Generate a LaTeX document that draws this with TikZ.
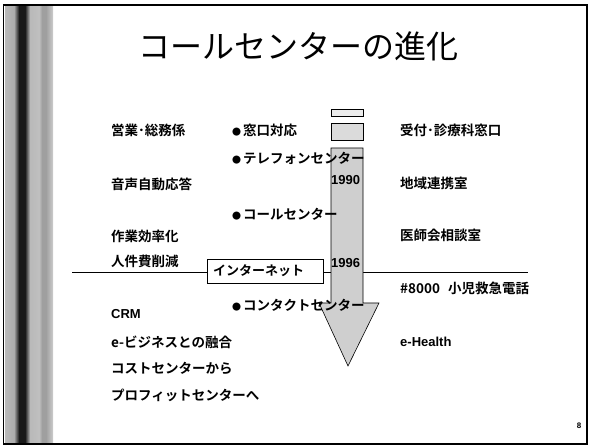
\documentclass[tikz,border=0pt]{standalone}
\usepackage{fontspec}
\setmainfont{Noto Sans CJK JP}[BoldFont={Noto Sans CJK JP Bold}]
\newfontfamily\arialb{Liberation Sans}[BoldFont={Liberation Sans Bold}]
\newcommand{\bul}{{\fontsize{9}{10}\selectfont ●}\hspace{2pt}}
\begin{document}
\begin{tikzpicture}[x=1pt,y=-1pt,
  lbl/.style={anchor=west, inner sep=0pt, font=\fontsize{13.5}{15}\selectfont\bfseries},
  latlbl/.style={anchor=west, inner sep=0pt, font=\arialb\fontsize{13}{15}\selectfont\bfseries},
  yearlbl/.style={anchor=west, inner sep=0pt, font=\arialb\fontsize{13}{14}\selectfont\bfseries},
  arrowfill/.style={draw=black, line width=0.6pt, fill=gray!38},
  stripe/.style={draw=none}]
\useasboundingbox (0,0) rectangle (589,446);
% left decorative stripe
\shade[stripe, left color=gray!55, right color=gray!65] (5,5) rectangle (14,444);
\shade[stripe, left color=gray!65, right color=black!90] (14,5) rectangle (19,444);
\fill[black!90] (19,5) rectangle (25,444);
\shade[stripe, left color=black!90, right color=gray!55] (25,5) rectangle (30,444);
\shade[stripe, left color=gray!55, right color=gray!50] (30,5) rectangle (39,444);
\shade[stripe, left color=gray!50, right color=gray!75] (39,5) rectangle (42,444);
\fill[gray!75] (42,5) rectangle (46,444);
\shade[stripe, left color=gray!75, right color=gray!40] (46,5) rectangle (53,444);
% frame
\draw[line width=1.2pt] (3.5,5) rectangle (587,444);
% title
\node[inner sep=0pt, font=\fontsize{32}{36}\selectfont] (title) at (298,46) {コールセンターの進化};
% timeline line
\coordinate (lineL) at (72,272);
\coordinate (lineR) at (528,272);
\draw[line width=0.8pt] (lineL) -- (lineR);
% arrow
\draw[arrowfill, fill=gray!15] (331,109) rectangle (363,116);
\draw[arrowfill, fill=gray!28] (331,123) rectangle (363,140);
\draw[arrowfill] (331,148) -- (363,148) -- (363,303) -- (379,303) -- (348,366) -- (319,303) -- (331,303) -- cycle;
% internet box
\node[draw, line width=0.6pt, fill=white, minimum width=116pt, minimum height=24pt, inner sep=0pt, anchor=north west] (inet) at (207,259) {};
\node[anchor=west, inner sep=0pt, font=\fontsize{13}{15}\selectfont\bfseries] (inettxt) at (213,271) {インターネット};
% years
\node[yearlbl] (y1990) at (331,180) {1990};
\node[yearlbl] (y1996) at (331,263) {1996};
% left column
\node[lbl] (l1) at (111,130) {営業･総務係};
\node[lbl] (l2) at (111,184) {音声自動応答};
\node[lbl] (l3) at (111,236) {作業効率化};
\node[lbl] (l4) at (111,261) {人件費削減};
\node[latlbl] (l5) at (111,314) {CRM};
\node[lbl] (l6) at (111,342) {e-ビジネスとの融合};
\node[lbl] (l7) at (111,368) {コストセンターから};
\node[lbl] (l8) at (111,395) {プロフィットセンターへ};
% middle column
\node[lbl] (m1) at (232,130) {\bul 窓口対応};
\node[lbl] (m2) at (232,158) {\bul テレフォンセンター};
\node[lbl] (m3) at (232,214) {\bul コールセンター};
\node[lbl] (m4) at (232,305) {\bul コンタクトセンター};
% right column
\node[lbl] (r1) at (400,130) {受付･診療科窓口};
\node[lbl] (r2) at (400,183) {地域連携室};
\node[lbl] (r3) at (400,235) {医師会相談室};
\node[lbl] (r4) at (400,288) {\#8000\hspace{8pt}小児救急電話};
\node[latlbl] (r5) at (400,342) {e-Health};
% page number
\node[inner sep=0pt, font=\arialb\fontsize{8}{9}\selectfont\bfseries] (pg) at (579,426) {8};
\end{tikzpicture}
\end{document}
